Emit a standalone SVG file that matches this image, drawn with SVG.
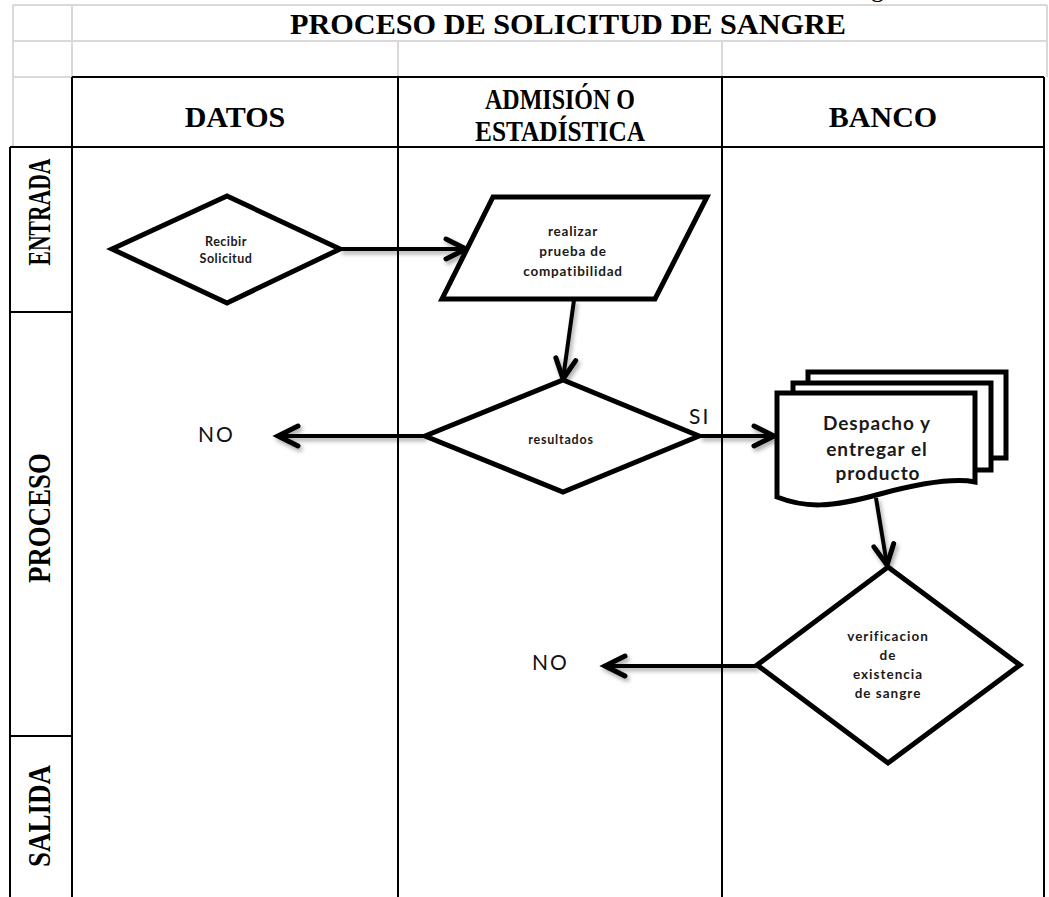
<svg xmlns="http://www.w3.org/2000/svg" width="1049" height="897" viewBox="0 0 1049 897">
<style>
.grid{stroke:#d9d9d9;stroke-width:2;fill:none}
.lane{stroke:#000;stroke-width:2;fill:none}
.hdr{font-family:"Liberation Serif","Times New Roman",serif;font-weight:bold;font-size:30px;text-anchor:middle;fill:#000}
.side{font-family:"Liberation Serif","Times New Roman",serif;font-weight:bold;font-size:31px;text-anchor:middle;fill:#000}
.shape{fill:#fff;stroke:#000;stroke-width:5;stroke-linejoin:miter}
.lbl{font-family:Lato,"Liberation Sans",sans-serif;font-weight:bold;text-anchor:middle;fill:#1a1a1a}
.edge{stroke:#000;stroke-width:4;fill:none;marker-end:url(#chev);filter:url(#shadow)}
.tag{font-family:Lato,"Liberation Sans",sans-serif;font-size:21px;letter-spacing:2px;fill:#111}
</style>
<defs>
<marker id="chev" markerUnits="userSpaceOnUse" markerWidth="30" markerHeight="30" viewBox="-24 -15 30 30" refX="0" refY="0" orient="auto" overflow="visible">
<path d="M-20,-10 L0,0 L-20,10" fill="none" stroke="#000" stroke-width="5" stroke-linecap="round" stroke-linejoin="miter"/>
</marker>
<filter id="shadow" filterUnits="userSpaceOnUse" x="0" y="0" width="1049" height="897">
<feDropShadow dx="2" dy="3" stdDeviation="2" flood-color="#000" flood-opacity="0.35"/>
</filter>
</defs>

<!-- tail of the preceding line of page text, clipped at the top edge -->
<text x="871" y="-3" font-family="'Liberation Serif','Times New Roman',serif" font-size="26" fill="#000">g</text>

<!-- sheet gridlines -->
<g id="sheet-grid">
<path class="grid" d="M13,5H1047M13,41H1047M13,77H72M13,5V147M72,5V77M398,41V77M722,41V77M1047,5V77"/>
</g>

<!-- swimlane frame -->
<g id="lanes">
<path class="lane" d="M72,77H1044M72,77V897M398,77V897M722,77V897M1044,77V897M10,147V897M10,312H72M10,736H72"/>
<path class="lane" stroke-width="2.5" d="M10,147H1044"/>
</g>

<!-- headings -->
<g id="title"><text class="hdr" font-size="31" x="568" y="34" textLength="556" lengthAdjust="spacingAndGlyphs">PROCESO DE SOLICITUD DE SANGRE</text></g>
<g id="col-datos"><text class="hdr" font-size="31" x="235" y="127">DATOS</text></g>
<g id="col-admision">
<text class="hdr" font-size="31" x="560" y="109" textLength="150" lengthAdjust="spacingAndGlyphs">ADMISIÓN O</text>
<text class="hdr" font-size="31" x="560" y="141" textLength="170" lengthAdjust="spacingAndGlyphs">ESTADÍSTICA</text>
</g>
<g id="col-banco"><text class="hdr" font-size="31" x="883" y="127">BANCO</text></g>
<g id="row-entrada"><text class="side" transform="translate(50,212) rotate(-90)" textLength="107" lengthAdjust="spacingAndGlyphs">ENTRADA</text></g>
<g id="row-proceso"><text class="side" transform="translate(50,518) rotate(-90)" textLength="130" lengthAdjust="spacingAndGlyphs">PROCESO</text></g>
<g id="row-salida"><text class="side" transform="translate(50,816) rotate(-90)" textLength="102" lengthAdjust="spacingAndGlyphs">SALIDA</text></g>

<!-- connectors -->
<g id="connectors">
<path class="edge" d="M340,249H466"/>
<path class="edge" d="M574,300L563,379"/>
<path class="edge" d="M425,436H278"/>
<path class="edge" d="M700,436H774"/>
<path class="edge" d="M876,498L887,565"/>
<path class="edge" d="M757,666H605"/>
<text class="tag" x="689" y="424">SI</text>
<text class="tag" x="198" y="442">NO</text>
<text class="tag" x="532" y="670">NO</text>
</g>

<!-- nodes -->
<g id="recibir">
<polygon class="shape" points="112,249 227,196 340,249 227,303"/>
<text class="lbl" font-size="12.5" letter-spacing="0.5" x="226" y="246">Recibir</text>
<text class="lbl" font-size="12.5" letter-spacing="0.5" x="226" y="263">Solicitud</text>
</g>
<g id="prueba">
<polygon class="shape" points="493,197 707,197 655,299 442,299"/>
<text class="lbl" font-size="13.5" letter-spacing="0.8" x="573" y="236">realizar</text>
<text class="lbl" font-size="13.5" letter-spacing="0.8" x="573" y="256">prueba de</text>
<text class="lbl" font-size="13.5" letter-spacing="0.8" x="573" y="276">compatibilidad</text>
</g>
<g id="resultados">
<polygon class="shape" points="425,436 563,380 699,436 563,492"/>
<text class="lbl" font-size="12.5" letter-spacing="0.8" x="561" y="444">resultados</text>
</g>
<g id="despacho">
<path class="shape" d="M808,458V372H1006V458Z"/>
<path class="shape" d="M793,470V383H991V470Z"/>
<path class="shape" d="M777,497V393H975V482C955,478 925,482 880,494C830,508 805,508 777,497Z"/>
<text class="lbl" font-size="19" letter-spacing="1" x="877" y="430">Despacho y</text>
<text class="lbl" font-size="19" letter-spacing="1" x="877" y="456">entregar el</text>
<text class="lbl" font-size="19" letter-spacing="1" x="878" y="480">producto</text>
</g>
<g id="verificacion">
<polygon class="shape" points="888,567 1020,665 888,763 757,665"/>
<text class="lbl" font-size="13.5" letter-spacing="1" x="888" y="641">verificacion</text>
<text class="lbl" font-size="13.5" letter-spacing="1" x="888" y="660">de</text>
<text class="lbl" font-size="13.5" letter-spacing="1" x="888" y="679">existencia</text>
<text class="lbl" font-size="13.5" letter-spacing="1" x="888" y="698">de sangre</text>
</g>
</svg>
